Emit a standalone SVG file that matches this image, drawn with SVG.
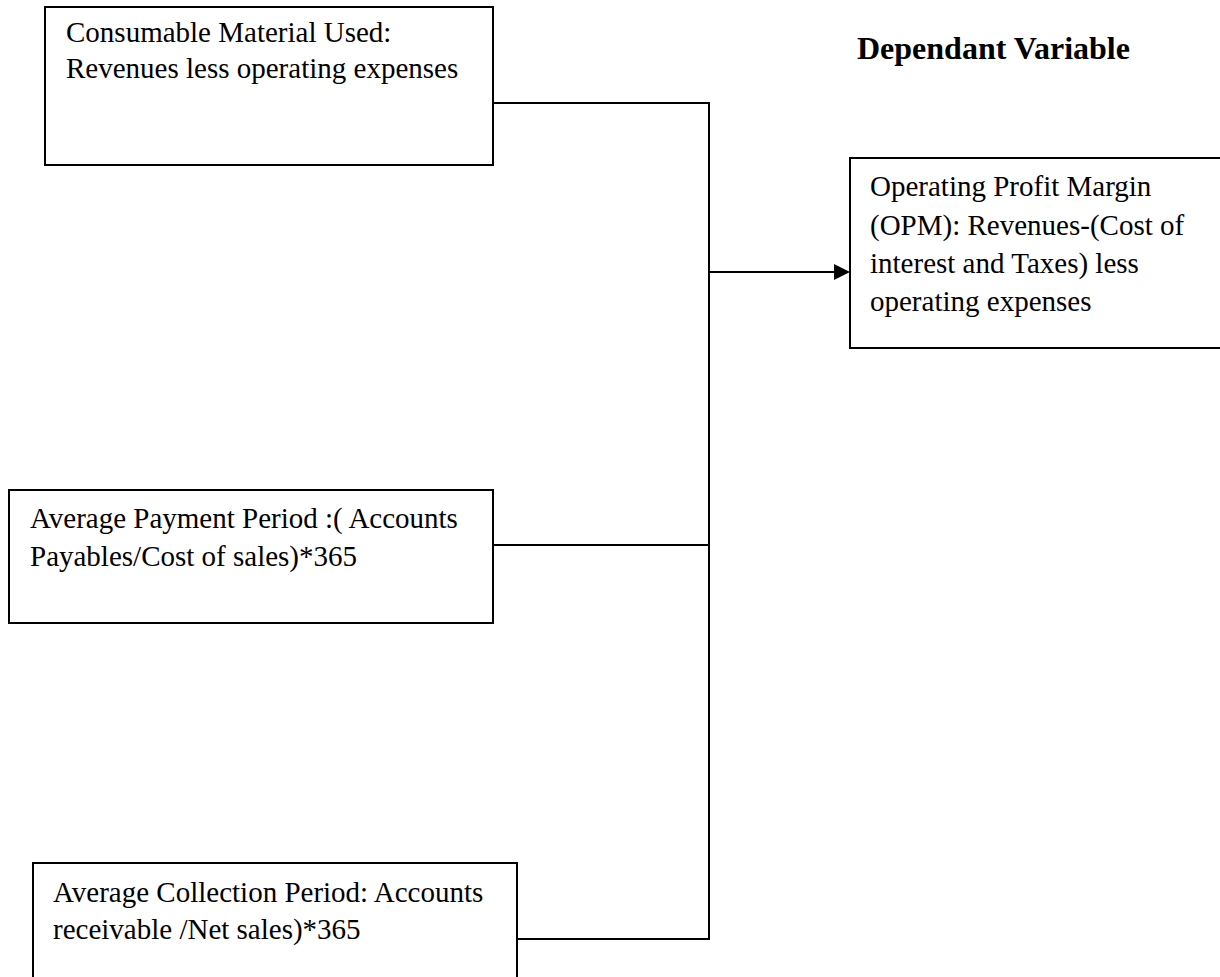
<svg xmlns="http://www.w3.org/2000/svg" width="1220" height="977" viewBox="0 0 1220 977">
  <style>
    .box { fill: #ffffff; stroke: #000000; stroke-width: 2; }
    .t { font-family: "Liberation Serif", "Times New Roman", serif; font-size: 29px; fill: #000000; }
    .title { font-family: "Liberation Serif", "Times New Roman", serif; font-size: 32px; font-weight: bold; fill: #000000; }
    .conn { fill: none; stroke: #000000; stroke-width: 2; }
  </style>
  <defs>
    <marker id="arrow" markerWidth="10" markerHeight="10" refX="9" refY="5" orient="auto" markerUnits="userSpaceOnUse" viewBox="0 0 10 10">
      <path d="M0,0 L10,5 L0,10 Z" fill="#000000"/>
    </marker>
  </defs>
  <rect width="1220" height="977" fill="#ffffff"/>

  <g id="title">
    <text class="title" x="857" y="59">Dependant Variable</text>
  </g>

  <g id="connectors">
    <polyline class="conn" points="493,103 709,103 709,939 517,939"/>
    <line class="conn" x1="493" y1="545" x2="709" y2="545"/>
    <path d="M709,272 L836,272" class="conn"/>
    <path d="M834,264 L850,272 L834,280 Z" fill="#000000"/>
  </g>

  <g id="node-consumable">
    <rect class="box" x="45" y="7" width="448" height="158"/>
    <text class="t" x="66" y="42">Consumable Material Used:</text>
    <text class="t" x="66" y="78">Revenues less operating expenses</text>
  </g>

  <g id="node-opm">
    <rect class="box" x="850" y="158" width="380" height="190"/>
    <text class="t" x="870" y="196">Operating Profit Margin</text>
    <text class="t" x="870" y="235">(OPM): Revenues-(Cost of</text>
    <text class="t" x="870" y="273">interest and Taxes) less</text>
    <text class="t" x="870" y="311">operating expenses</text>
  </g>

  <g id="node-payment">
    <rect class="box" x="9" y="490" width="484" height="133"/>
    <text class="t" x="30" y="528">Average Payment Period :( Accounts</text>
    <text class="t" x="30" y="566">Payables/Cost of sales)*365</text>
  </g>

  <g id="node-collection">
    <rect class="box" x="33" y="863" width="484" height="130"/>
    <text class="t" x="53" y="902">Average Collection Period: Accounts</text>
    <text class="t" x="53" y="939">receivable /Net sales)*365</text>
  </g>
</svg>
